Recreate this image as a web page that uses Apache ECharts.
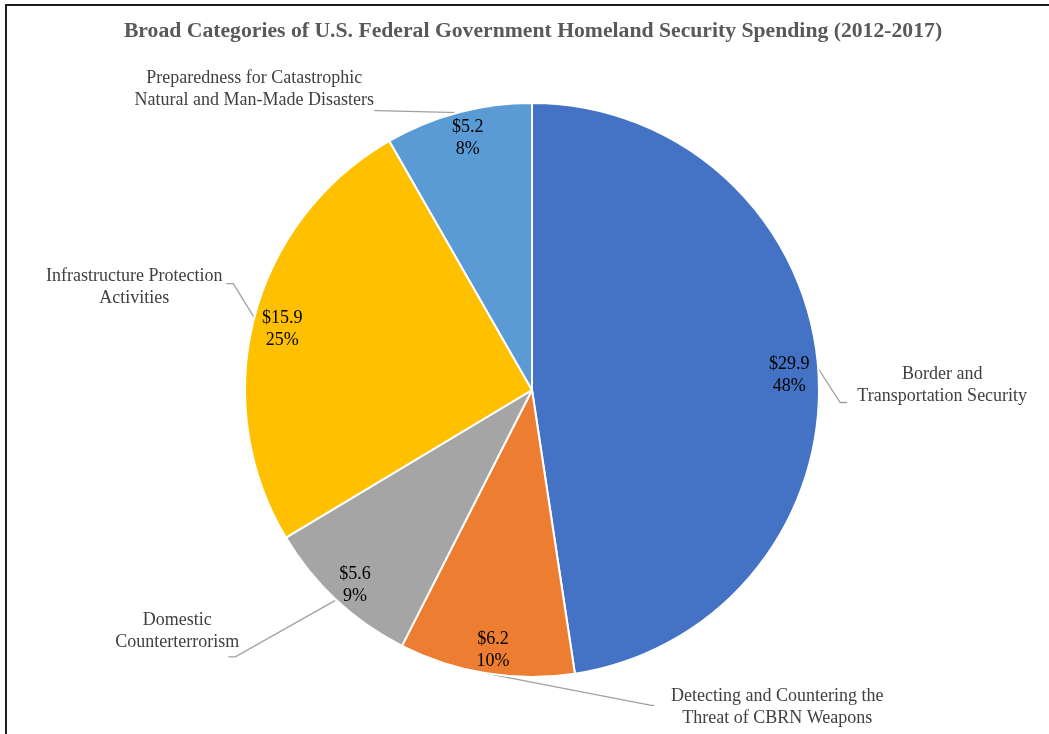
<!DOCTYPE html>
<html>
<head>
<meta charset="utf-8">
<title>Homeland Security Spending</title>
<script src="https://cdn.jsdelivr.net/npm/echarts@6/dist/echarts.min.js"></script>
<style>
  html, body { margin: 0; padding: 0; background: #ffffff; overflow: hidden; }
  #frame {
    position: absolute; left: 5px; top: 4px; width: 1100px; height: 800px;
    border: 2px solid #1e1e1e; box-sizing: border-box;
  }
  #chart { position: absolute; left: 0; top: 0; width: 1049px; height: 734px; }
</style>
</head>
<body>
<div id="frame"></div>
<div id="chart"></div>
<script>
// Spending by broad category, billions of dollars (clockwise from 12 o'clock)
const categories = [
  'Border and\nTransportation Security',
  'Detecting and Countering the\nThreat of CBRN Weapons',
  'Domestic\nCounterterrorism',
  'Infrastructure Protection\nActivities',
  'Preparedness for Catastrophic\nNatural and Man-Made Disasters'
];
const values = [29.9, 6.2, 5.6, 15.9, 5.2];
const colors = ['#4472C4', '#ED7D31', '#A5A5A5', '#FFC000', '#5B9BD5'];

const titleText = 'Broad Categories of U.S. Federal Government Homeland Security Spending (2012-2017)';

// Leader line shape for each outside label: first bend offset from the
// slice edge, horizontal tail length, and label centre relative to the tail end.
const leaderStyle = [
  { bend: [22, 34],   tail: 7,  label: [95, -17] },
  { bend: [165, 32],  tail: 3,  label: [123, 2] },
  { bend: [-101, 57], tail: -7, label: [-51, -26] },
  { bend: [-21, -34], tail: -7, label: [-92, 4] },
  { bend: [-81, -2],  tail: -3, label: [-120, -21] }
];

// Nudges for the value / percent labels sitting near the rim.
const innerNudge = [[0, 5], [2, 6], [-1, 7], [0, 4], [2, -2]];

const serif = '"Liberation Serif", "Times New Roman", serif';
const pieCenter = [532, 390];
const pieRadius = 287;

const data = categories.map((name, i) => ({
  name: name,
  value: values[i],
  itemStyle: { color: colors[i] }
}));

const chart = echarts.init(document.getElementById('chart'), null, { renderer: 'canvas' });

chart.setOption({
  animation: false,
  title: {
    text: titleText,
    left: 528,
    textAlign: 'center',
    top: 15,
    textStyle: {
      fontFamily: serif,
      fontWeight: 'bold',
      fontSize: 21.7,
      color: '#595959'
    }
  },
  series: [
    {
      // Slices with the category names outside
      type: 'pie',
      center: pieCenter,
      radius: pieRadius,
      startAngle: 90,
      clockwise: true,
      avoidLabelOverlap: false,
      silent: true,
      itemStyle: { borderColor: '#ffffff', borderWidth: 2 },
      label: {
        show: true,
        position: 'outside',
        formatter: '{b}',
        fontFamily: serif,
        fontSize: 18,
        lineHeight: 22,
        color: '#404040'
      },
      labelLine: {
        show: true,
        length: 4,
        length2: 4,
        smooth: false,
        lineStyle: { color: '#a0a0a0', width: 1.3 }
      },
      labelLayout: function (p) {
        const cfg = leaderStyle[p.dataIndex];
        const pts = p.labelLinePoints;
        if (!cfg || !pts) { return {}; }
        const start = pts[0];
        const bend = [start[0] + cfg.bend[0], start[1] + cfg.bend[1]];
        const end = [bend[0] + cfg.tail, bend[1]];
        return {
          x: end[0] + cfg.label[0],
          y: end[1] + cfg.label[1],
          align: 'center',
          verticalAlign: 'middle',
          labelLinePoints: [start, bend, end]
        };
      },
      emphasis: { disabled: true },
      data: data
    },
    {
      // Transparent ring carrying the value and share labels near the rim
      type: 'pie',
      center: pieCenter,
      radius: [223, pieRadius],
      startAngle: 90,
      clockwise: true,
      avoidLabelOverlap: false,
      silent: true,
      itemStyle: { color: 'rgba(0,0,0,0)', borderWidth: 0 },
      label: {
        show: true,
        position: 'inside',
        formatter: function (p) {
          return '$' + p.value.toFixed(1) + '\n' + Math.round(p.percent) + '%';
        },
        fontFamily: serif,
        fontSize: 18,
        lineHeight: 22,
        color: '#000000'
      },
      labelLine: { show: false },
      labelLayout: function (p) {
        const n = innerNudge[p.dataIndex] || [0, 0];
        return { dx: n[0], dy: n[1] };
      },
      emphasis: { disabled: true },
      data: categories.map((name, i) => ({ name: name, value: values[i] }))
    }
  ]
});
</script>
</body>
</html>
